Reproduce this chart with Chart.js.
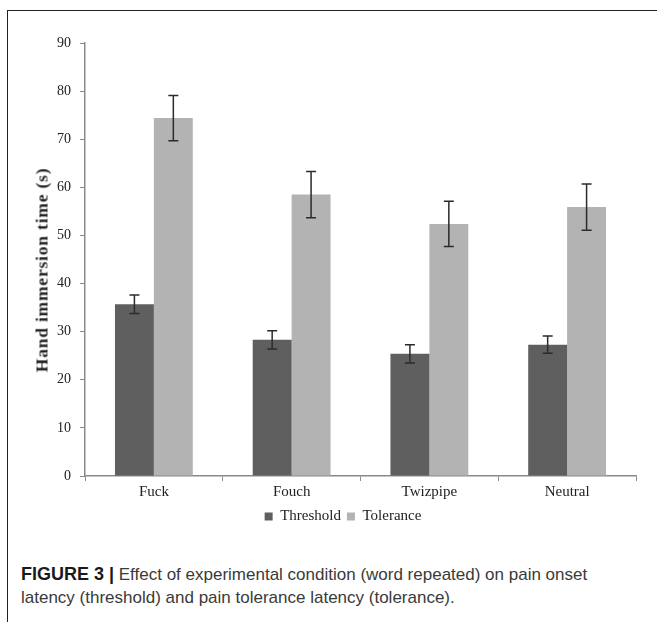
<!DOCTYPE html>
<html>
<head>
<meta charset="utf-8">
<script src="https://cdn.jsdelivr.net/npm/chart.js@4.4.1/dist/chart.umd.min.js"></script>
<style>
  html, body { margin: 0; padding: 0; background: #fff; }
  #page { position: relative; width: 657px; height: 622px; overflow: hidden; }
  #frame { position: absolute; left: 7px; top: 10px; width: 700px; height: 700px;
           border-left: 1.5px solid #222; border-top: 1.5px solid #222; }
  #chart-wrap { position: absolute; left: 0; top: 0; width: 657px; height: 540px; }
  #y-title { position: absolute; left: 42px; top: 270px; transform: translate(-50%, -50%) rotate(-90deg);
             white-space: nowrap; font-family: "Liberation Serif", "Times New Roman", serif;
             font-weight: bold; font-size: 17.5px; letter-spacing: 0.8px; color: #222; }
  #caption { position: absolute; left: 21px; top: 563px; width: 630px; white-space: nowrap;
             font-family: "Liberation Sans", Arial, sans-serif; font-size: 17px;
             line-height: 23px; color: #3a3a3a; }
  #caption b { font-size: 18px; color: #1a1a1a; }
</style>
</head>
<body>
<div id="page">
  <div id="frame"></div>
  <div id="chart-wrap"><canvas id="chart"></canvas></div>
  <div id="y-title">Hand immersion time (s)</div>
  <div id="caption"><b>FIGURE 3 |</b> Effect of experimental condition (word repeated) on pain onset<br>latency (threshold) and pain tolerance latency (tolerance).</div>
</div>
<script>
const categories = ['Fuck', 'Fouch', 'Twizpipe', 'Neutral'];
const thresholdValues = [35.7, 28.3, 25.4, 27.3];
const thresholdErrors = [1.9, 1.9, 1.9, 1.8];
const toleranceValues = [74.4, 58.5, 52.4, 55.9];
const toleranceErrors = [4.7, 4.8, 4.7, 4.8];
const yTicks = [0, 10, 20, 30, 40, 50, 60, 70, 80, 90];

const serif = '"Liberation Serif", "Times New Roman", serif';
const axisColor = '#8a8a8a';

// whiskers drawn from the bar elements and the y scale
const errorBarPlugin = {
    id: 'errorBars',
    afterDatasetsDraw(chart) {
        const ctx = chart.ctx;
        const yScale = chart.scales.y;
        ctx.save();
        ctx.strokeStyle = '#2b2b2b';
        ctx.lineWidth = 1.5;
        chart.data.datasets.forEach((dataset, di) => {
            const meta = chart.getDatasetMeta(di);
            meta.data.forEach((bar, i) => {
                const v = dataset.data[i];
                const e = dataset.errors[i];
                const top = yScale.getPixelForValue(v + e);
                const bottom = yScale.getPixelForValue(v - e);
                const cap = 5;
                ctx.beginPath();
                ctx.moveTo(bar.x, top);
                ctx.lineTo(bar.x, bottom);
                ctx.moveTo(bar.x - cap, top);
                ctx.lineTo(bar.x + cap, top);
                ctx.moveTo(bar.x - cap, bottom);
                ctx.lineTo(bar.x + cap, bottom);
                ctx.stroke();
            });
        });
        ctx.restore();
    },
};

new Chart(document.getElementById('chart'), {
    type: 'bar',
    data: {
        labels: categories,
        datasets: [
            {
                label: 'Threshold',
                data: thresholdValues,
                errors: thresholdErrors,
                backgroundColor: '#5f5f5f',
                barPercentage: 1,
                categoryPercentage: 0.565,
            },
            {
                label: 'Tolerance',
                data: toleranceValues,
                errors: toleranceErrors,
                backgroundColor: '#b3b3b3',
                barPercentage: 1,
                categoryPercentage: 0.565,
            },
        ],
    },
    options: {
        responsive: true,
        maintainAspectRatio: false,
        animation: false,
        layout: { padding: { left: 50, top: 43, right: 21, bottom: 6 } },
        plugins: {
            tooltip: { enabled: false },
            legend: {
                position: 'bottom',
                labels: {
                    color: '#222',
                    font: { family: serif, size: 15 },
                    boxWidth: 8,
                    boxHeight: 8,
                    padding: 6,
                },
            },
        },
        scales: {
            x: {
                grid: { offset: true, drawOnChartArea: false, drawTicks: true, tickLength: 5, color: axisColor },
                border: { color: axisColor, width: 1.5 },
                ticks: { color: '#222', font: { family: serif, size: 15 }, padding: 2 },
            },
            y: {
                min: 0,
                max: 90,
                afterBuildTicks: (scale) => { scale.ticks = yTicks.map((v) => ({ value: v })); },
                afterFit: (scale) => { scale.width = 35; },
                grid: { drawOnChartArea: false, drawTicks: true, tickLength: 5, color: axisColor },
                border: { color: axisColor, width: 1.5 },
                ticks: { color: '#222', font: { family: serif, size: 14 }, padding: 9 },
            },
        },
    },
    plugins: [errorBarPlugin],
});
</script>
</body>
</html>
